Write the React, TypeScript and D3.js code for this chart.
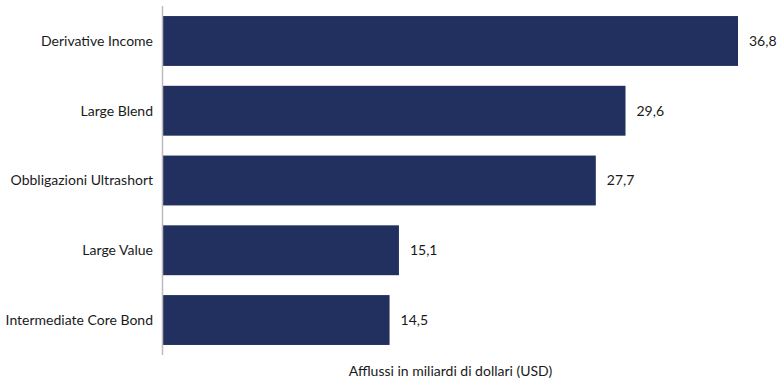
import React from "react";
import * as d3 from "d3";

const categories = [
  "Derivative Income",
  "Large Blend",
  "Obbligazioni Ultrashort",
  "Large Value",
  "Intermediate Core Bond",
];
const values = [36.8, 29.6, 27.7, 15.1, 14.5];
const axisTitle = "Afflussi in miliardi di dollari (USD)";

const W = 781;
const H = 381;

export default function App() {
  const x = d3.scaleLinear().domain([0, 36.8]).range([163, 738]);
  const y = d3
    .scaleBand<string>()
    .domain(categories)
    .range([6, 355])
    .paddingInner(0.285)
    .paddingOuter(0.144);
  const fmt = (v: number) => v.toFixed(1).replace(".", ",");
  const font = "Lato, 'Open Sans', sans-serif";
  return (
    <svg
      width={W}
      height={H}
      style={{ position: "absolute", left: 0, top: 0, display: "block" }}
      fontFamily={font}
    >
      <rect width={W} height={H} fill="#fff" />
      {categories.map((c, i) => {
        const yy = y(c)!;
        const bw = y.bandwidth();
        return (
          <g key={c}>
            <rect
              x={x(0)}
              y={yy}
              width={x(values[i]) - x(0)}
              height={bw}
              fill="#21305e"
            />
            <text
              x={153}
              y={yy + bw / 2}
              dy="0.35em"
              textAnchor="end"
              fontSize={14}
              fill="#1a1a1a"
            >
              {c}
            </text>
            <text
              x={x(values[i]) + 11}
              y={yy + bw / 2}
              dy="0.35em"
              textAnchor="start"
              fontSize={14}
              fill="#1a1a1a"
            >
              {fmt(values[i])}
            </text>
          </g>
        );
      })}
      <line
        x1={162.5}
        x2={162.5}
        y1={y.range()[0]}
        y2={y.range()[1]}
        stroke="#bdbdbd"
        strokeWidth={1.5}
      />
      <text
        x={(x.range()[0] + x.range()[1]) / 2}
        y={371}
        dy="0.35em"
        textAnchor="middle"
        fontSize={14}
        fill="#1a1a1a"
      >
        {axisTitle}
      </text>
    </svg>
  );
}
